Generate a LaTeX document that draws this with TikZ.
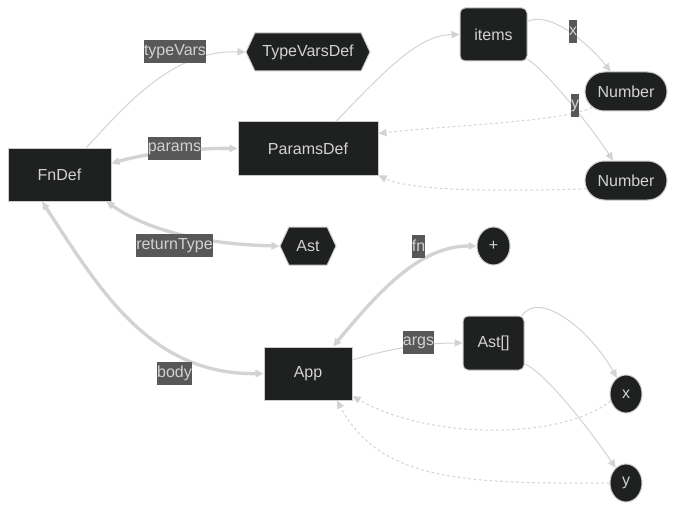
\documentclass[tikz,border=0pt]{standalone}
\usepackage{fontspec}
\setmainfont{Liberation Sans}
\usepackage{tikz}
\usetikzlibrary{arrows.meta,shapes.geometric,shapes.misc,shapes.symbols}

\definecolor{knoten}{RGB}{31,32,32}
\definecolor{rand}{RGB}{204,204,204}
\definecolor{schrift}{RGB}{210,210,210}
\definecolor{kante}{RGB}{211,211,211}
\definecolor{etikett}{RGB}{88,88,88}

\begin{document}
\begin{tikzpicture}[x=0.75pt, y=-0.75pt, font=\fontsize{12}{14}\selectfont,
	>={Triangle[length=6pt,width=5.5pt]},
	kasten/.style={draw=rand, fill=knoten, text=schrift, line width=0.75pt, inner sep=0pt},
	sechseck/.style={kasten, signal, signal to=east and west, signal pointer angle=130, minimum height=28.5pt},
	kapsel/.style={kasten, rounded rectangle, minimum width=61.5pt, minimum height=29.25pt},
	kreis/.style={kasten, ellipse, minimum width=24pt, minimum height=28.5pt},
	etikett/.style={fill=etikett, text=schrift, inner xsep=0pt, inner ysep=0pt, minimum height=17.25pt},
	duenn/.style={draw=kante, line width=0.75pt},
	dick/.style={draw=kante, line width=2.5pt},
	gestrichelt/.style={draw=kante, line width=0.75pt, dash pattern=on 2pt off 2pt}]
	
	\useasboundingbox (0,0) rectangle (675,510);
	
	%Knoten
	\node[kasten, minimum width=77.25pt, minimum height=39.75pt] (FnDef) at (59.5,174.5) {FnDef};
	\node[sechseck, minimum width=93pt] (TypeVarsDef) at (308,52) {TypeVarsDef};
	\node[kasten, minimum width=105pt, minimum height=39.75pt] (ParamsDef) at (308,148.5) {ParamsDef};
	\node[kasten, rounded corners=3.75pt, minimum width=50.25pt, minimum height=39.75pt] (items) at (493.5,34.5) {items};
	\node[kapsel] (NumberX) at (626,91.5) {Number};
	\node[kapsel] (NumberY) at (626,180.5) {Number};
	\node[sechseck, minimum width=42pt] (Ast) at (308,246) {Ast};
	\node[kreis, minimum width=24.75pt] (plus) at (493.5,246) {+};
	\node[kasten, minimum width=66pt, minimum height=39.75pt] (App) at (308,373.5) {App};
	\node[kasten, rounded corners=3.75pt, minimum width=45.75pt, minimum height=40.5pt] (AstListe) at (493.5,343) {Ast[]};
	\node[kreis] (x) at (626,394) {x};
	\node[kreis] (y) at (626,483) {y};
	
	%Kanten
	\draw[duenn, ->] (FnDef.45) .. controls (130,100) and (175,50) .. (TypeVarsDef.west);
	\draw[dick, <->] (FnDef.12) .. controls (150,152) and (200,148) .. (ParamsDef.west);
	\draw[dick, <->] (FnDef.-30) .. controls (140,225) and (190,244) .. (Ast.west);
	\draw[dick, <->] (FnDef.-123) .. controls (100,290) and (150,375) .. (App.west);
	\draw[dick, <->] (App.47) .. controls (380,290) and (420,246) .. (plus.west);
	\draw[duenn, ->] (App.17) .. controls (385,350) and (420,343) .. (AstListe.west);
	\draw[duenn, ->] (ParamsDef.44) .. controls (390,65) and (420,35) .. (items.west);
	\draw[duenn, ->] (items.21) .. controls (550,10) and (590,45) .. (NumberX);
	\draw[duenn, ->] (items.-36) .. controls (545,70) and (590,125) .. (NumberY);
	\draw[gestrichelt, ->] (NumberX.-155) .. controls (565,122) and (450,125) .. (ParamsDef.12);
	\draw[gestrichelt, ->] (NumberY.-168) .. controls (480,192) and (410,190) .. (ParamsDef.south east);
	\draw[duenn, ->] (AstListe.44) .. controls (540,290) and (590,330) .. (x);
	\draw[duenn, ->] (AstListe.-34) .. controls (545,372) and (590,430) .. (y);
	\draw[gestrichelt, ->] (x.-155) .. controls (560,440) and (430,440) .. (App.-27);
	\draw[gestrichelt, ->] (y.west) .. controls (460,484) and (380,480) .. (App.-43);
	
	%Beschriftungen
	\node[etikett] (lTypeVars) at (175,51.5) {typeVars};
	\node[etikett] (lParams) at (174.5,148.5) {params};
	\node[etikett] (lReturnType) at (174.5,245.5) {returnType};
	\node[etikett] (lBody) at (174.5,373.5) {body};
	\node[etikett] (lX) at (573,31.5) {x};
	\node[etikett] (lY) at (575,105.5) {y};
	\node[etikett] (lFn) at (418.5,246) {fn};
	\node[etikett] (lArgs) at (418.5,342.5) {args};

\end{tikzpicture}
\end{document}
